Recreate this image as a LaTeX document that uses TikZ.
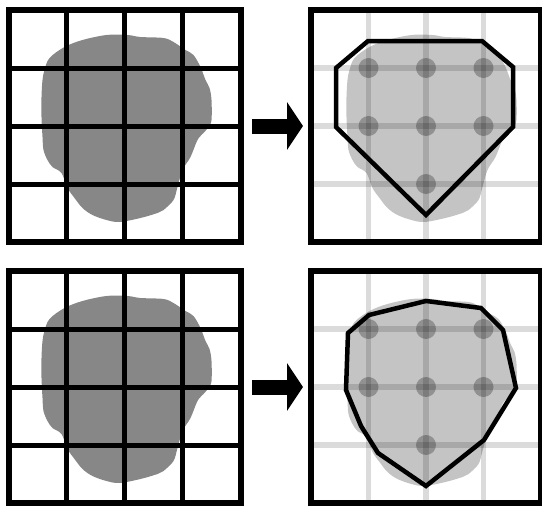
\documentclass[tikz,border=0pt]{standalone}
\usepackage{xcolor}
\usepackage{tikz}
\usetikzlibrary{arrows.meta,calc}

\definecolor{blobdark}{gray}{0.53}
\definecolor{blobpale}{gray}{0.77}

\begin{document}
\begin{tikzpicture}[
  x=1pt, y=-1pt,
  panel/.style={draw, line width=6pt, minimum size=232pt, inner sep=0pt, outer sep=0pt},
  hullpanel/.style={panel, minimum width=230pt},
  gridline/.style={line width=5pt},
  faintline/.style={line width=5.5pt, black, opacity=0.14},
  gridpt/.style={black, opacity=0.26},
  hull/.style={line width=4.5pt, line join=miter},
  push/.style={line width=15pt, -{Triangle[length=16pt, width=47pt]}, shorten <=11.5pt, shorten >=8pt},
  blob/.pic={
    \fill[pic actions] plot[smooth cycle, tension=0.55] coordinates {
      (-75,-68) (-60,-79) (-42,-86) (-18,-91) (3,-91) (16,-89) (39,-88) (49,-84)
      (61,-76) (69,-71) (76,-59) (81,-46) (85,-38) (87,-26) (87,-6) (84,1)
      (79,7) (73,14) (66,31) (58,44) (53,61) (49,74) (39,84) (33,87)
      (16,92) (-5,96) (-18,94) (-32,89) (-42,82) (-50,72) (-57,62) (-63,47)
      (-72,41) (-77,34) (-81,24) (-82,11) (-83,-9) (-83,-29) (-82,-46) (-80,-56)};
  }
]
\useasboundingbox (0,0) rectangle (542,506);

% the four panels
\node[panel] (gridA) at (124.5,126) {};
\node[hullpanel] (hullA) at (426,126) {};
\node[panel] (gridB) at (124.5,387) {};
\node[hullpanel] (hullB) at (426,387) {};

% shapes
\pic[fill=blobdark] at (gridA) {blob};
\pic[fill=blobdark] at (gridB) {blob};
\pic[fill=blobpale] at ($(hullA)+(3.5,0)$) {blob};
\pic[fill=blobpale] at ($(hullB)+(3.5,3)$) {blob};

% grids
\foreach \p in {gridA,gridB}
  \foreach \f in {0.25,0.5,0.75} {
    \draw[gridline] ($(\p.north west)!\f!(\p.north east)$) -- ($(\p.south west)!\f!(\p.south east)$);
    \draw[gridline] ($(\p.north west)!\f!(\p.south west)$) -- ($(\p.north east)!\f!(\p.south east)$);
  }
\foreach \p in {hullA,hullB} {
  \foreach \f in {0.25,0.5,0.75} {
    \draw[faintline] ($(\p.north west)!\f!(\p.north east)$) -- ($(\p.south west)!\f!(\p.south east)$);
    \draw[faintline] ($(\p.north west)!\f!(\p.south west)$) -- ($(\p.north east)!\f!(\p.south east)$);
  }
  \foreach \dx/\dy in {-57.5/-58, 0/-58, 57.5/-58, -57.5/0, 0/0, 57.5/0, 0/58}
    \fill[gridpt] ($(\p)+(\dx,\dy)$) circle (10);
}

% hulls
\draw[hull, shift={(hullA.center)}] (-90,-58) -- (-58,-85) -- (56,-85) -- (87,-59)
  -- (87,1) -- (0,89) -- (-90,1) -- cycle;
\draw[hull, shift={(hullB.center)}] (-78,-54) -- (-57,-72) -- (0,-86) -- (55,-79)
  -- (77,-57) -- (90,1) -- (58,53) -- (0,99) -- (-48,66) -- (-65,39) -- (-80,3) -- cycle;

\draw[push] (gridA.east) -- (hullA.west);
\draw[push] (gridB.east) -- (hullB.west);
\end{tikzpicture}
\end{document}
